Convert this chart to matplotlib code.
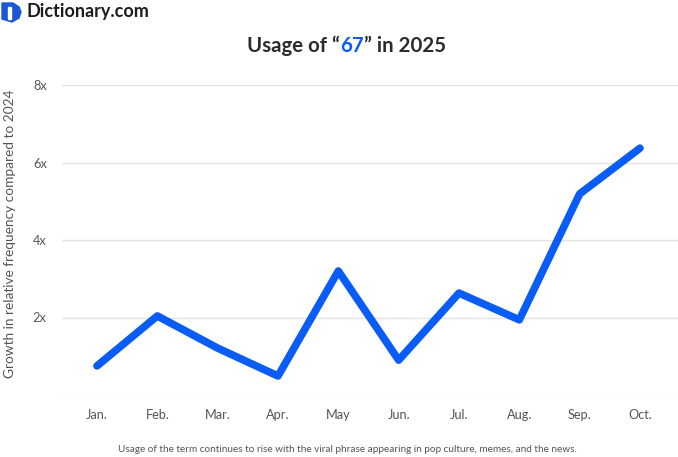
import matplotlib.pyplot as plt
from matplotlib.patches import Polygon, Rectangle

months = ['Jan.', 'Feb.', 'Mar.', 'Apr.', 'May', 'Jun.', 'Jul.', 'Aug.', 'Sep.', 'Oct.']
growth = [0.75, 2.04, 1.21, 0.49, 3.2, 0.9, 2.63, 1.94, 5.19, 6.37]
yticks = [2, 4, 6, 8]
ytick_labels = ['2x', '4x', '6x', '8x']

plt.rcParams['font.family'] = ['Lato', 'DejaVu Sans']

blue = '#0a5cf6'
grey = '#555555'

fig = plt.figure(figsize=(6.78, 4.57), dpi=100)
ax = fig.add_axes([62 / 678, 1 - 395 / 457, 616 / 678, 310 / 457])

ax.plot(range(len(months)), growth, color=blue, linewidth=5.5,
        solid_capstyle='round', solid_joinstyle='round', zorder=3)

ax.set_xlim(-0.58, 9.63)
ax.set_ylim(0, 8)
ax.set_xticks(range(len(months)))
ax.set_xticklabels(months)
ax.set_yticks(yticks)
ax.set_yticklabels(ytick_labels)
ax.tick_params(length=0, labelsize=9.2, colors=grey, pad=10)
ax.tick_params(axis='y', pad=11)
for y in [0] + yticks:
    ax.axhline(y, color='#e2e2e2', linewidth=1, zorder=1)
for s in ax.spines.values():
    s.set_visible(False)

fig.text(10 / 678, 1 - 234 / 457, 'Growth in relative frequency compared to 2024',
         rotation=90, ha='center', va='center', fontsize=9.8, color=grey)

# title with highlighted term
ty = 1 - 46 / 457
t1 = fig.text(247 / 678, ty, 'Usage of \u201c', fontsize=14.7, fontweight='bold',
              color='#2b2b2b', ha='left', va='center')
fig.canvas.draw()
r = fig.canvas.get_renderer()
bb = t1.get_window_extent(r)
t2 = fig.text(bb.x1 / 678, ty, '67', fontsize=14.7, fontweight='bold',
              color=blue, ha='left', va='center')
bb2 = t2.get_window_extent(r)
fig.text(bb2.x1 / 678, ty, '\u201d in 2025', fontsize=14.7, fontweight='bold',
         color='#2b2b2b', ha='left', va='center')

# logo
icon = Polygon([[2 / 678, 1 - 3 / 457], [13 / 678, 1 - 3 / 457], [19 / 678, 1 - 7 / 457],
                [21 / 678, 1 - 12 / 457], [19 / 678, 1 - 18 / 457], [12 / 678, 1 - 22 / 457],
                [2 / 678, 1 - 19 / 457]],
               closed=True, transform=fig.transFigure, color='#1a56d6')
fig.patches.append(icon)
fig.patches.append(Rectangle((8 / 678, 1 - 19 / 457), 2.5 / 678, 12 / 457,
                             transform=fig.transFigure, color='white'))
fig.text(27 / 678, 1 - 11 / 457, 'Dictionary.com', fontsize=13, fontweight='bold',
         color='#1c1c1c', ha='left', va='center')

fig.text(347 / 678, 1 - 449 / 457,
         'Usage of the term continues to rise with the viral phrase appearing in pop culture, memes, and the news.',
         fontsize=7.2, color=grey, ha='center', va='center')

fig.savefig('out.png', dpi=100)
